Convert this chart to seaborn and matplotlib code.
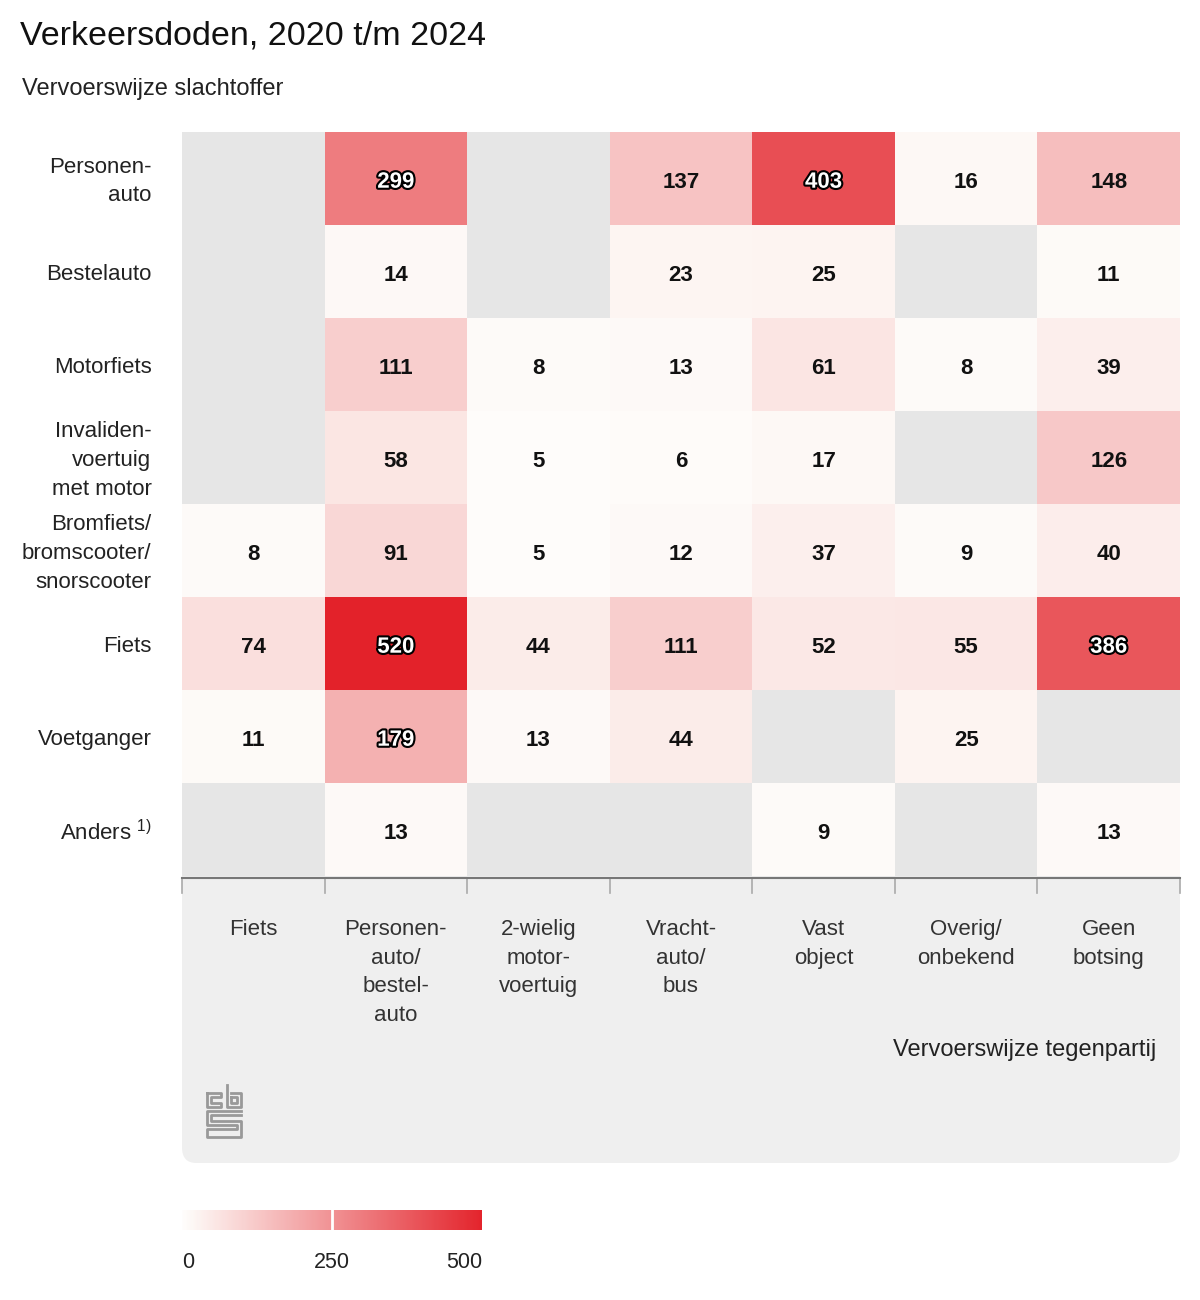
import numpy as np
import pandas as pd
import seaborn as sns
import matplotlib.pyplot as plt
import matplotlib.patheffects as pe
import matplotlib.transforms as mtransforms
from matplotlib.colors import LinearSegmentedColormap
from matplotlib.patches import FancyBboxPatch
from matplotlib.lines import Line2D

slachtoffer = ["Personen-\nauto", "Bestelauto", "Motorfiets", "Invaliden-\nvoertuig\nmet motor",
               "Bromfiets/\nbromscooter/\nsnorscooter", "Fiets", "Voetganger", "Anders $^{1)}$"]
tegenpartij = ["Fiets", "Personen-\nauto/\nbestel-\nauto", "2-wielig\nmotor-\nvoertuig", "Vracht-\nauto/\nbus",
               "Vast\nobject", "Overig/\nonbekend", "Geen\nbotsing"]

nan = np.nan
personenauto = [nan, 299, nan, 137, 403, 16, 148]
bestelauto = [nan, 14, nan, 23, 25, nan, 11]
motorfiets = [nan, 111, 8, 13, 61, 8, 39]
invalidenvoertuig = [nan, 58, 5, 6, 17, nan, 126]
bromfiets = [8, 91, 5, 12, 37, 9, 40]
fiets = [74, 520, 44, 111, 52, 55, 386]
voetganger = [11, 179, 13, 44, nan, 25, nan]
anders = [nan, 13, nan, nan, 9, nan, 13]

df = pd.DataFrame([personenauto, bestelauto, motorfiets, invalidenvoertuig,
                   bromfiets, fiets, voetganger, anders],
                  index=slachtoffer, columns=tegenpartij)

plt.rcParams['font.family'] = ['Liberation Sans', 'DejaVu Sans']
plt.rcParams['mathtext.fontset'] = 'custom'
plt.rcParams['mathtext.rm'] = 'Liberation Sans'

cmap = LinearSegmentedColormap.from_list(
    "cbs_rood", [(0.0, "#fefdfc"), (0.03, "#fdf8f5"), (1.0, "#e3222a")])
VMAX = 505

W, H = 1200, 1300
fig = plt.figure(figsize=(12, 13), dpi=100)
fig.patch.set_facecolor("white")

# grijs paneel onder de heatmap
panel = FancyBboxPatch((182 / W, 1 - 1163 / H), (1180 - 182) / W, (1163 - 880) / H,
                       boxstyle="round,pad=0,rounding_size=0.012", transform=fig.transFigure,
                       facecolor="#efefef", edgecolor="none", zorder=-2)
fig.patches.append(panel)
fig.patches.append(plt.Rectangle((182 / W, 1 - 900 / H), (1180 - 182) / W, 24 / H,
                                 transform=fig.transFigure, facecolor="#efefef",
                                 edgecolor="none", zorder=-2))

ax = fig.add_axes([182 / W, 1 - 876 / H, (1180 - 182) / W, (876 - 132) / H])
sns.heatmap(df, ax=ax, cmap=cmap, vmin=0, vmax=VMAX, cbar=False,
            annot=False, linewidths=0)
ax.set_facecolor("#e6e6e6")

for i in range(df.shape[0]):
    for j in range(df.shape[1]):
        v = df.iloc[i, j]
        if np.isnan(v):
            continue
        if v > 150:
            ax.text(j + 0.5, i + 0.54, f"{int(v)}", ha="center", va="center",
                    fontsize=16, fontweight="bold", color="white",
                    path_effects=[pe.withStroke(linewidth=3, foreground="black")])
        else:
            ax.text(j + 0.5, i + 0.54, f"{int(v)}", ha="center", va="center",
                    fontsize=16, fontweight="bold", color="#111111")

ax.set_xlabel("")
ax.set_ylabel("")
ax.set_yticklabels(df.index, rotation=0, fontsize=16, color="#222222", linespacing=1.47)
ax.tick_params(axis="y", length=0, pad=22)
shift = mtransforms.ScaledTranslation(0, -3 / 100, fig.dpi_scale_trans)
for lab in ax.get_yticklabels():
    lab.set_transform(lab.get_transform() + shift)
ax.set_xticklabels(df.columns, rotation=0, fontsize=16, color="#333333",
                   linespacing=1.47, va="top")
ax.tick_params(axis="x", length=0, pad=31)
for s in ax.spines.values():
    s.set_visible(False)

# as-lijn en maatstreepjes
axis_y = 1 - 878 / H
for k in range(8):
    x = (182 + k * (1180 - 182) / 7) / W
    fig.add_artist(Line2D([x, x], [axis_y, 1 - 893 / H], transform=fig.transFigure,
                          color="#aaaaaa", lw=1.2))
fig.add_artist(Line2D([182 / W, 1180 / W], [axis_y, axis_y], transform=fig.transFigure,
                      color="#777777", lw=1.5))

fig.text(1156 / W, 1 - 1050 / H, "Vervoerswijze tegenpartij", ha="right", va="center",
         fontsize=17, color="#222222")

# cbs logo (eenvoudig)
lx, ly = 207, 1085
logo = [
    [(0, 8), (0, 22), (14, 22), (14, 18), (4, 18), (4, 12), (14, 12), (14, 8), (0, 8)],
    [(20, 0), (20, 22), (34, 22), (34, 8), (24, 8)],
    [(24, 12), (30, 12), (30, 18), (24, 18), (24, 12)],
    [(34, 26), (0, 26), (0, 40), (30, 40), (30, 44), (0, 44), (0, 52), (34, 52),
     (34, 36), (4, 36), (4, 30), (34, 30)],
]
for path in logo:
    xs = [(lx + p[0]) / W for p in path]
    ys = [1 - (ly + p[1]) / H for p in path]
    fig.add_artist(Line2D(xs, ys, transform=fig.transFigure, color="#999999", lw=2))

fig.text(20 / W, 1 - 36 / H, "Verkeersdoden, 2020 t/m 2024", ha="left", va="center",
         fontsize=24.5, color="#111111")
fig.text(22 / W, 1 - 89 / H, "Vervoerswijze slachtoffer", ha="left", va="center",
         fontsize=17, color="#222222")

# kleurenbalk
cax = fig.add_axes([182 / W, 1 - 1230 / H, 300 / W, 20 / H])
cb = fig.colorbar(ax.collections[0], cax=cax, orientation="horizontal")
cb.outline.set_visible(False)
cax.set_xlim(0, 500)
cb.set_ticks([0, 250, 500])
cax.tick_params(length=0, labelsize=15.5, pad=16, labelcolor="#222222")
labels = cax.get_xticklabels()
labels[0].set_ha("left")
labels[-1].set_ha("right")
cax.axvline(250, color="white", lw=2)

plt.savefig("out.png", dpi=100)
plt.close()
